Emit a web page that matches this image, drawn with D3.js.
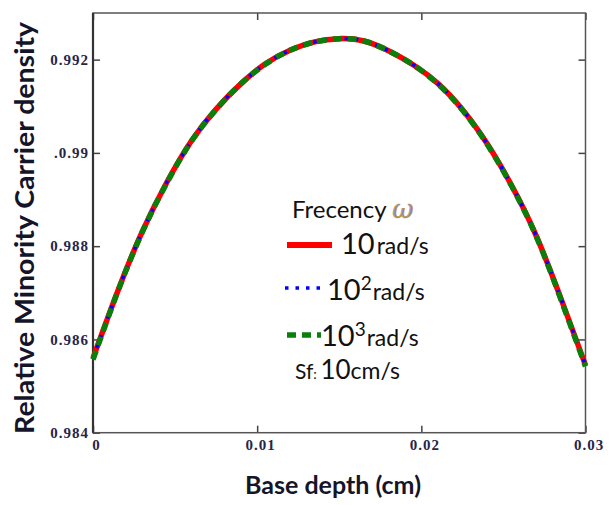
<!DOCTYPE html>
<html>
<head>
<meta charset="utf-8">
<script src="https://cdn.jsdelivr.net/npm/d3@7"></script>
<style>
  html, body { margin: 0; padding: 0; background: #fff; }
  svg { display: block; }
</style>
</head>
<body>
<svg id="chart" width="612" height="505"></svg>
<script>
// base depth (cm)
const depth = [0, 0.0015, 0.003, 0.0045, 0.006, 0.0075, 0.009, 0.0105, 0.012, 0.0135, 0.015,
  0.0165, 0.018, 0.0195, 0.021, 0.0225, 0.024, 0.0255, 0.027, 0.0285, 0.03];

// relative minority carrier density for each frequency (curves overlap)
const rho10 = [0.98560, 0.98703, 0.98831, 0.98937, 0.99026, 0.99094, 0.99148, 0.99191, 0.99220, 0.99238, 0.99245,
  0.99240, 0.99219, 0.99189, 0.99149, 0.99093, 0.99020, 0.98930, 0.98822, 0.98688, 0.98545];
const rho100 = [0.98560, 0.98703, 0.98831, 0.98937, 0.99026, 0.99094, 0.99148, 0.99191, 0.99220, 0.99238, 0.99245,
  0.99240, 0.99219, 0.99189, 0.99149, 0.99093, 0.99020, 0.98930, 0.98822, 0.98688, 0.98545];
const rho1000 = [0.98557, 0.98702, 0.98830, 0.98936, 0.99025, 0.99093, 0.99148, 0.99190, 0.99220, 0.99238, 0.99245,
  0.99240, 0.99219, 0.99189, 0.99148, 0.99092, 0.99019, 0.98929, 0.98821, 0.98686, 0.98542];

const xTicks = [0, 0.01, 0.02, 0.03];
const yTicks = [0.984, 0.986, 0.988, 0.99, 0.992];
const yTickLabels = ['0.984', '0.986', '0.988', '.0.99', '0.992'];

const seriesNames = ['10', '10', '10'];
const seriesSup = ['', '2', '3'];

const svg = d3.select('#chart');
const margin = { left: 93, right: 26.5, top: 13, bottom: 72.3 };
const width = 612 - margin.left - margin.right;
const height = 505 - margin.top - margin.bottom;

const x = d3.scaleLinear().domain([0, 0.03]).range([0, width]);
const y = d3.scaleLinear().domain([0.984, 0.993]).range([height, 0]);

const g = svg.append('g')
  .attr('transform', `translate(${margin.left},${margin.top})`);

const tickFont = (sel) => sel
  .attr('font-family', '"Liberation Serif", serif')
  .attr('font-weight', 'bold')
  .attr('font-size', 15)
  .attr('letter-spacing', 1)
  .attr('fill', '#26264a');

// axes, ticks pointing inwards
const yAxis = g.append('g')
  .call(d3.axisLeft(y).tickValues(yTicks).tickSizeInner(-7).tickSizeOuter(0).tickPadding(4)
    .tickFormat((d, i) => yTickLabels[i]));
yAxis.selectAll('text').call(tickFont);

const xAxis = g.append('g')
  .attr('transform', `translate(0,${height})`)
  .call(d3.axisBottom(x).tickValues(xTicks).tickSizeInner(-7).tickSizeOuter(0).tickPadding(7)
    .tickFormat(d3.format('')));
xAxis.selectAll('text').call(tickFont).attr('dx', 3);

g.append('g')
  .call(d3.axisTop(x).tickValues(xTicks).tickSizeInner(-7).tickSizeOuter(0).tickFormat(''));
g.append('g')
  .attr('transform', `translate(${width},0)`)
  .call(d3.axisRight(y).tickValues(yTicks).tickSizeInner(-7).tickSizeOuter(0).tickFormat(''));

g.selectAll('.domain').remove();
g.selectAll('.tick line').attr('stroke', '#444').attr('stroke-width', 1.5);

// frame
g.append('rect')
  .attr('width', width)
  .attr('height', height)
  .attr('fill', 'none')
  .attr('stroke', '#555')
  .attr('stroke-width', 1.5);
g.append('line')
  .attr('y1', 0).attr('y2', height)
  .attr('stroke', '#333')
  .attr('stroke-width', 2.2);

// curves
const line = d3.line()
  .x((d) => x(d[0]))
  .y((d) => y(d[1]))
  .curve(d3.curveNatural);

const styles = [
  { color: '#ff0000', w: 5.5, dash: null },
  { color: '#0000ff', w: 3.5, dash: '3.5,7' },
  { color: '#0b7f0b', w: 5.5, dash: '9,6' }
];
[rho10, rho100, rho1000].forEach((vals, i) => {
  g.append('path')
    .datum(depth.map((d, j) => [d, vals[j]]))
    .attr('d', line)
    .attr('fill', 'none')
    .attr('stroke', styles[i].color)
    .attr('stroke-width', styles[i].w)
    .attr('stroke-dasharray', styles[i].dash);
});

// legend
const legend = svg.append('g').attr('font-family', 'Lato, sans-serif').attr('fill', '#111');
const title = legend.append('text')
  .attr('x', 292).attr('y', 218)
  .attr('font-size', 24);
title.append('tspan').text('Frecency ');
title.append('tspan')
  .attr('font-family', '"DejaVu Serif", serif')
  .attr('font-style', 'italic')
  .attr('font-size', 26)
  .attr('fill', '#8090b8')
  .attr('stroke', '#c8903c')
  .attr('stroke-width', 0.7)
  .text('ω');

const rows = [
  { ly: 245, x1: 287, x2: 332, tx: 341, ty: 254 },
  { ly: 288, x1: 285, x2: 326, tx: 327, ty: 300 },
  { ly: 335, x1: 287, x2: 321, tx: 321, ty: 346 }
];
rows.forEach((r, i) => {
  legend.append('line')
    .attr('x1', r.x1).attr('x2', r.x2)
    .attr('y1', r.ly).attr('y2', r.ly)
    .attr('stroke', styles[i].color)
    .attr('stroke-width', i === 0 ? 6 : styles[i].w)
    .attr('stroke-dasharray', styles[i].dash);
  const t = legend.append('text').attr('x', r.tx).attr('y', r.ty);
  t.append('tspan').attr('font-size', 29).text(seriesNames[i]);
  if (seriesSup[i]) {
    t.append('tspan').attr('font-size', 19).attr('dy', -10).text(seriesSup[i]);
    t.append('tspan').attr('font-size', 23).attr('dy', 10).attr('dx', 1).text('rad/s');
  } else {
    t.append('tspan').attr('font-size', 23).attr('dx', 2).text('rad/s');
  }
});
const sf = legend.append('text').attr('x', 295).attr('y', 379);
sf.append('tspan').attr('font-size', 21).text('Sf');
sf.append('tspan').attr('font-size', 14).text(': ');
sf.append('tspan').attr('font-size', 26).text('10');
sf.append('tspan').attr('font-size', 23).text('cm/s');

// axis titles
svg.append('text')
  .attr('x', 333).attr('y', 494)
  .attr('text-anchor', 'middle')
  .attr('font-family', 'Lato, sans-serif')
  .attr('font-weight', 'bold')
  .attr('font-size', 24)
  .attr('textLength', 176)
  .attr('lengthAdjust', 'spacingAndGlyphs')
  .attr('fill', '#15152a')
  .text('Base depth (cm)');

svg.append('text')
  .attr('transform', 'translate(34,228) rotate(-90)')
  .attr('text-anchor', 'middle')
  .attr('font-family', 'Lato, sans-serif')
  .attr('font-weight', 'bold')
  .attr('font-size', 26)
  .attr('textLength', 412)
  .attr('lengthAdjust', 'spacingAndGlyphs')
  .attr('fill', '#15152a')
  .text('Relative Minority Carrier density');
</script>
</body>
</html>
